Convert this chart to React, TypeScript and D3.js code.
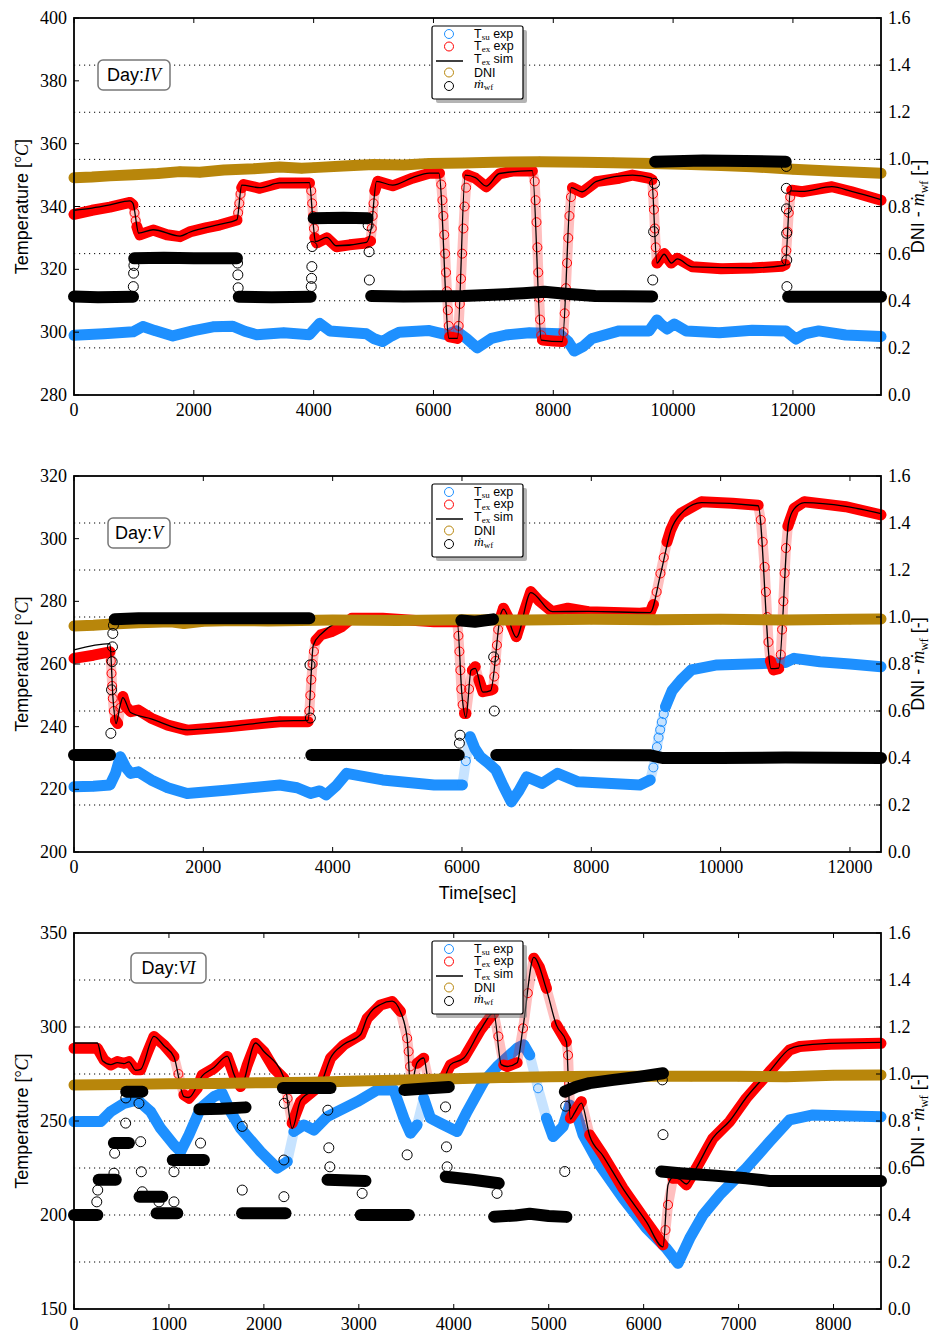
import React from 'react';
import * as d3 from 'd3';

type P = [number, number];

// ================= Day IV =================
const d4XTicks = [0, 2000, 4000, 6000, 8000, 10000, 12000];
const d4YTicks = [280, 300, 320, 340, 360, 380, 400];
const d4Tsu: P[] = [[0,299.0],[500,299.5],[985,300.1],[1150,301.8],[1350,300.5],[1650,298.8],[2000,300.5],[2320,301.7],[2650,301.9],[2850,300.3],[3050,299.2],[3500,299.8],[3930,299.2],[4100,302.8],[4270,300.4],[4600,299.9],[4880,299.5],[5000,298],[5150,297],[5300,298.8],[5430,300],[5930,300.5],[6210,299.2],[6380,300.4],[6550,298],[6730,295],[6850,296.5],[6970,298],[7210,299.1],[7600,299.8],[8100,299.5],[8250,297],[8350,294],[8500,295.5],[8650,298],[9100,300.4],[9600,300.4],[9730,303.9],[9800,302.5],[9900,301],[10020,302.6],[10220,300.4],[10770,299.8],[11320,300.6],[11880,300.4],[12050,297.8],[12200,299.5],[12430,300.4],[12880,299.1],[13470,298.6]];
const d4Tex: P[] = [[0,337.5],[300,338.8],[600,339.8],[935,341.3],[985,340.5],[1010,338],[1030,335.5],[1050,333.5],[1075,332],[1100,331],[1320,332.5],[1550,331],[1770,330.4],[1930,331.9],[2200,333.2],[2430,334.1],[2720,335.7],[2740,338],[2760,341],[2780,344],[2800,346],[2830,347],[3100,345.8],[3430,347.5],[3700,347.5],[3930,347.5],[3960,345],[3975,341],[3990,337],[4005,333],[4020,330],[4050,328.4],[4220,330],[4380,327.2],[4600,327.8],[4880,328.4],[4950,329],[4970,333],[4985,337],[5000,341],[5020,345],[5070,348],[5320,346.6],[5650,349],[5930,350.6],[6100,350.6],[6130,347],[6150,342],[6165,337],[6180,331],[6195,325],[6210,319],[6225,313],[6240,307],[6255,302],[6270,298.5],[6400,298],[6420,302],[6440,309],[6460,317],[6480,325],[6500,333],[6520,340],[6545,346],[6570,350],[6700,349],[6880,346.3],[7100,350.4],[7320,351.3],[7650,351.3],[7690,348],[7705,342],[7720,335],[7735,327],[7750,319],[7765,311],[7780,304],[7800,299],[7820,297.5],[8000,297.2],[8150,297],[8170,300],[8190,306],[8210,314],[8230,322],[8250,330],[8270,337],[8295,343],[8320,346],[8480,344.5],[8720,347.9],[9100,349],[9320,350],[9600,349],[9650,348.5],[9665,344],[9680,339],[9695,333],[9710,327],[9730,322],[9850,325],[9970,322],[10070,323.5],[10320,320.8],[10800,320.2],[11320,320.4],[11820,321],[11870,321.5],[11890,326],[11910,332],[11930,338],[11955,343],[11980,345.2],[12150,344.7],[12650,346.3],[12980,344.7],[13470,342]];
const d4Sim: P[] = [[0,338.8],[300,339.5],[600,340.5],[935,341.8],[985,341],[1080,331.5],[1320,332.6],[1770,330.6],[1930,331.8],[2430,334.3],[2720,335.8],[2800,346.8],[3100,346],[3430,347.5],[3930,347.6],[3990,335],[4030,328.8],[4220,330.2],[4380,327.5],[4880,328.6],[4960,333],[5050,348],[5320,346.8],[5650,349.2],[5930,350.6],[6090,350.6],[6260,298],[6400,298],[6530,350],[6700,349.2],[6880,346.5],[7100,350.5],[7650,351.4],[7800,297.5],[8150,297],[8300,346],[8480,344.7],[8720,348],[9320,350],[9640,349],[9730,322],[9850,324.8],[9970,322],[10070,323.3],[10320,320.8],[11320,320.5],[11870,321.3],[11960,345],[12150,344.8],[12650,346.3],[12980,344.8],[13470,342.2]];
const d4Dni: P[] = [[0,0.922],[300,0.925],[600,0.93],[1000,0.935],[1400,0.94],[1770,0.948],[2100,0.945],[2500,0.955],[3000,0.96],[3430,0.968],[3800,0.962],[4000,0.965],[4500,0.972],[5000,0.978],[5500,0.976],[5930,0.983],[6500,0.985],[7000,0.988],[7770,0.99],[8500,0.988],[9000,0.986],[9650,0.983],[10300,0.978],[10800,0.974],[11320,0.969],[12000,0.958],[12700,0.95],[13470,0.941]];
const d4MwfSegs: P[][] = [
  [[0,0.418],[400,0.415],[985,0.417]],
  [[1005,0.58],[1500,0.582],[2000,0.58],[2720,0.58]],
  [[2750,0.417],[3300,0.415],[3950,0.417]],
  [[4000,0.75],[4500,0.752],[4900,0.75]],
  [[4960,0.42],[5500,0.418],[6500,0.42],[7000,0.425],[7500,0.432],[7850,0.438],[8200,0.43],[8700,0.42],[9650,0.418]],
  [[9700,0.99],[10500,0.995],[11200,0.993],[11880,0.99]],
  [[11920,0.417],[12700,0.417],[13470,0.417]],
];
const d4MwfPts: P[] = [[990,0.46],[995,0.517],[1000,0.55],[2730,0.56],[2735,0.51],[2740,0.455],[3960,0.46],[3965,0.495],[3970,0.545],[3975,0.63],[4910,0.72],[4925,0.608],[4930,0.488],[9660,0.488],[9675,0.693],[9690,0.898],[11890,0.97],[11890,0.877],[11892,0.79],[11895,0.686],[11897,0.573],[11900,0.46]];

// ================= Day V =================
const d5XTicks = [0, 2000, 4000, 6000, 8000, 10000, 12000];
const d5YTicks = [200, 220, 240, 260, 280, 300, 320];
const d5Tsu: P[] = [[0,220.8],[300,221],[557,221.4],[640,225],[716,230.4],[800,227],[875,225.1],[994,225.6],[1193,223],[1450,220.5],[1750,218.7],[2387,219.8],[3182,221.4],[3450,220.5],[3659,218.7],[3800,219.5],[3898,218.2],[4050,221],[4216,225.1],[4773,223],[5569,221.4],[6006,221.4],[6060,229],[6125,236.8],[6200,233],[6284,230.4],[6400,228.5],[6523,226.2],[6640,221],[6762,216],[6880,219.5],[7000,224],[7239,221.9],[7478,225.1],[7796,222.4],[8750,221.4],[8910,223],[8960,227],[8989,230.4],[9015,233.5],[9040,236.5],[9065,239],[9090,241.5],[9120,244],[9148,246.4],[9200,249],[9250,251.5],[9387,254.9],[9546,258.1],[9944,259.7],[10739,260.2],[11000,260.5],[11137,261.8],[11535,260.7],[12000,260],[12480,259.1]];
const d5Tex: P[] = [[0,261.8],[300,262.8],[557,263.9],[570,261],[580,257],[590,253],[600,249],[615,245],[640,242],[676,241],[716,246],[756,249.6],[800,246.5],[875,244.8],[994,245.3],[1193,242.7],[1450,240.5],[1750,238.9],[2387,240],[3182,241.6],[3620,241.6],[3640,245],[3655,250],[3670,255],[3690,260],[3710,264],[3740,267.5],[3818,269.3],[3978,270.3],[4137,271.9],[4296,274.6],[4773,274.6],[5569,273.5],[5926,273.5],[5945,269],[5960,264],[5975,258],[5990,252],[6010,247],[6040,244.2],[6062,244.2],[6110,252],[6160,258],[6205,259.1],[6260,255],[6324,251.2],[6443,251.7],[6480,252],[6500,256],[6520,261],[6540,266],[6560,271],[6600,275],[6642,277.8],[6700,275.5],[6841,268.7],[6950,276],[7064,283.1],[7200,280],[7398,276.7],[7637,277.8],[7955,276.7],[8750,276.2],[8910,276.5],[8960,279],[9010,283],[9069,288.9],[9120,294],[9170,299],[9228,302.8],[9300,306],[9387,308.1],[9705,311.8],[10182,311.3],[10580,310.7],[10620,306],[10650,299],[10680,291],[10700,283],[10720,275],[10740,267],[10770,261],[10819,258.1],[10898,258.5],[10930,263],[10950,271],[10970,280],[10990,289],[11010,297],[11040,304],[11137,309.7],[11296,311.8],[11933,310.2],[12480,307.6]];
const d5Sim: P[] = [[0,264.5],[557,266.5],[600,250],[650,241],[716,247],[756,249.3],[875,244.5],[1193,242.5],[1750,239],[2387,240],[3182,241.8],[3620,242],[3700,266],[3818,269.5],[4296,274.5],[5569,273.6],[5926,273.6],[6000,250],[6062,243],[6140,258],[6205,258.6],[6324,251],[6443,251.5],[6600,276],[6642,277.5],[6841,268.5],[7064,282.8],[7398,276.7],[7955,276.8],[8910,276.4],[9069,288.5],[9228,302.5],[9387,308],[9705,311.5],[10580,310.5],[10780,258.5],[10898,258.7],[11050,305],[11137,309.5],[11296,311.5],[11933,310.3],[12480,308]];
const d5Dni: P[] = [[0,0.962],[300,0.965],[600,0.97],[1000,0.975],[1500,0.98],[1700,0.972],[2000,0.982],[2500,0.985],[3000,0.983],[4000,0.987],[5000,0.985],[6000,0.988],[7000,0.987],[8000,0.99],[9000,0.988],[10000,0.99],[11000,0.987],[12000,0.99],[12480,0.992]];
const d5MwfSegs: P[][] = [
  [[0,0.413],[300,0.413],[557,0.413]],
  [[630,0.99],[1000,0.995],[2000,0.995],[3000,0.995],[3640,0.995]],
  [[3670,0.413],[4500,0.413],[5950,0.413]],
  [[5990,0.985],[6200,0.98],[6480,0.99]],
  [[6530,0.413],[7500,0.413],[8900,0.412],[9100,0.4],[10000,0.4],[11000,0.402],[12480,0.4]],
];
const d5MwfPts: P[] = [[570,0.505],[580,0.69],[590,0.81],[595,0.873],[600,0.93],[610,0.965],[3650,0.796],[3655,0.57],[5960,0.463],[5970,0.497],[6490,0.83],[6500,0.6]];

// ================= Day VI =================
const d6XTicks = [0, 1000, 2000, 3000, 4000, 5000, 6000, 7000, 8000];
const d6YTicks = [150, 200, 250, 300, 350];
const d6Tsu: P[] = [[0,249.7],[281,249.7],[386,255],[526,259.4],[667,261.2],[807,255],[912,246.1],[1053,237.3],[1123,233.7],[1211,242.6],[1333,256.8],[1474,263],[1561,264.8],[1649,255],[1754,246.1],[1965,233.7],[2140,224.9],[2246,228.4],[2316,244.4],[2421,247.9],[2527,245.2],[2667,252.3],[2983,260.3],[3193,266.5],[3369,266.5],[3474,251.5],[3544,243.5],[3614,247.9],[3684,262.1],[3755,251.5],[3860,248.8],[4035,244.4],[4141,255],[4316,271],[4456,278.9],[4667,288.7],[4737,290.5],[4800,285.1],[4888,267.4],[4976,251.5],[5046,241.7],[5151,247],[5221,258.5],[5292,254],[5362,242.6],[5537,226.6],[5783,208.9],[6028,193],[6239,182.3],[6362,174.3],[6485,187.6],[6625,200],[6800,210.7],[7081,224.9],[7327,239],[7537,250.6],[7783,253.2],[8500,252.3]];
const d6Tex: P[] = [[0,288.7],[246,288.7],[316,282.5],[386,279.8],[456,281.6],[526,280.7],[579,281.6],[649,277.2],[702,277.2],[770,286],[842,294.9],[947,290.5],[1053,284.3],[1100,275],[1158,263.9],[1211,262.1],[1298,267.4],[1351,274.5],[1474,278],[1614,284.3],[1684,274.5],[1754,268.3],[1825,279.8],[1912,291.3],[2000,286.9],[2105,278],[2211,272.7],[2250,262],[2298,248.8],[2386,260.3],[2597,269.2],[2702,283.4],[2842,290.5],[3018,295.8],[3088,304.6],[3228,311.7],[3351,313.5],[3439,308.2],[3509,294],[3525,287],[3540,279],[3562,268.3],[3614,280.7],[3684,283.4],[3737,271],[3860,269.2],[3965,279.8],[4106,283.4],[4281,298.4],[4380,305],[4421,307.3],[4470,295],[4527,279.8],[4562,279],[4667,281],[4730,299.3],[4780,318],[4843,336.6],[4900,332],[4976,320.6],[5081,301.1],[5186,292.2],[5204,285],[5215,270],[5228,251.5],[5274,255],[5344,260.3],[5432,242.6],[5572,231.9],[5783,214.2],[6028,196.5],[6204,184.1],[6230,192],[6257,205.4],[6309,219.5],[6380,219.5],[6450,216],[6555,224.9],[6730,240.8],[6906,249.7],[7081,262.1],[7327,276.3],[7537,287.8],[7643,289.6],[7958,290.8],[8500,291.3]];
const d6Sim: P[] = [[0,291.5],[246,291.5],[300,282],[386,280],[456,281],[526,280.5],[579,281.5],[649,277],[702,277.5],[842,295],[947,290],[1053,284],[1158,263],[1211,262.5],[1351,274],[1474,278.5],[1614,284.5],[1684,275],[1754,268],[1912,291.5],[2000,287],[2211,273],[2298,246],[2386,261],[2597,269.5],[2702,283.5],[2842,290.8],[3018,296],[3088,305],[3228,312],[3351,313.8],[3439,308],[3509,294],[3545,268],[3614,281],[3684,283.5],[3737,271],[3860,269.5],[3965,280],[4106,283.5],[4281,298.5],[4421,307.5],[4500,280],[4562,279],[4667,281],[4730,300],[4843,337],[4976,320],[5081,301],[5186,292],[5228,251],[5274,254.5],[5344,259.5],[5432,242],[5572,231.5],[5783,214],[6028,196.5],[6204,183],[6257,216],[6309,220],[6380,219],[6450,216.5],[6555,225],[6730,241],[6906,250],[7081,262.5],[7327,276.5],[7537,288.3],[7643,290],[7958,291.3],[8500,291.8]];
const d6Dni: P[] = [[0,0.953],[500,0.955],[1000,0.958],[1500,0.96],[2000,0.963],[2500,0.965],[3000,0.97],[3500,0.975],[4000,0.98],[4500,0.985],[5000,0.988],[5500,0.99],[6000,0.99],[6500,0.99],[7000,0.99],[7500,0.988],[8000,0.995],[8500,0.996]];
const d6MwfSegs: P[][] = [
  [[0,0.40],[246,0.40]],
  [[260,0.55],[440,0.55]],
  [[420,0.706],[579,0.706]],
  [[550,0.925],[720,0.925]],
  [[690,0.478],[930,0.478]],
  [[870,0.407],[1088,0.407]],
  [[1040,0.634],[1368,0.634]],
  [[1320,0.85],[1550,0.852],[1807,0.858]],
  [[1770,0.407],[2228,0.407]],
  [[2200,0.94],[2702,0.94]],
  [[2670,0.55],[3070,0.545]],
  [[3020,0.40],[3527,0.40]],
  [[3480,0.932],[3700,0.938],[3948,0.945]],
  [[3915,0.563],[4200,0.55],[4474,0.535]],
  [[4425,0.393],[4650,0.398],[4800,0.405],[5000,0.396],[5186,0.392]],
  [[5170,0.925],[5290,0.946],[5430,0.961],[5680,0.975],[5960,0.989],[6204,1.003]],
  [[6186,0.585],[6380,0.578],[6730,0.568],[7081,0.556],[7327,0.545],[7783,0.545],[8500,0.545]],
];
const d6MwfPts: P[] = [[240,0.456],[250,0.506],[421,0.578],[428,0.663],[544,0.791],[546,0.898],[684,0.875],[702,0.712],[709,0.584],[719,0.499],[895,0.456],[1053,0.456],[1053,0.584],[1333,0.706],[1772,0.777],[1772,0.506],[2211,0.478],[2211,0.634],[2215,0.875],[2674,0.846],[2684,0.686],[2695,0.605],[3035,0.492],[3509,0.656],[3913,0.86],[3923,0.69],[3930,0.605],[4456,0.492],[5169,0.585],[5179,0.863],[6197,0.975],[6204,0.742]];

const RIGHT_TICKS = [0, 0.2, 0.4, 0.6, 0.8, 1.0, 1.2, 1.4, 1.6];
const GRID = [0.2, 0.4, 0.6, 0.8, 1.0, 1.2, 1.4];

const SANS = "'Liberation Sans', Arial, Helvetica, sans-serif";
const SERIF = "'Liberation Serif', 'DejaVu Serif', 'Times New Roman', serif";
const X0 = 74, X1 = 881;
const BLUE = '#1e90ff', RED = '#ff0000', GOLD = '#b8860b';

type Sc = (v: number) => number;

function Band({ pts, sx, sy, color, width = 11, r = 4.5, circles = true }: { pts: P[]; sx: Sc; sy: Sc; color: string; width?: number; r?: number; circles?: boolean }) {
  const px: [number, number][] = pts.map(([t, v]) => [sx(t), sy(v)]);
  const groups: { steep: boolean; pts: [number, number][] }[] = [];
  for (let i = 1; i < px.length; i++) {
    const dx = Math.abs(px[i][0] - px[i - 1][0]);
    const dy = Math.abs(px[i][1] - px[i - 1][1]);
    const steep = dy > 3.5 * dx && dy > 4;
    const last = groups[groups.length - 1];
    if (last && last.steep === steep) last.pts.push(px[i]);
    else groups.push({ steep, pts: [px[i - 1], px[i]] });
  }
  const line = d3.line();
  return (
    <g>
      {groups.map((g, i) => (
        <path key={'g' + i} d={line(g.pts) || ''} fill="none" stroke={color}
          strokeWidth={g.steep ? width - 1 : width} strokeOpacity={g.steep ? 0.25 : 1}
          strokeLinecap="round" strokeLinejoin="round" />
      ))}
      {circles && px.map((p, i) => (
        <circle key={'c' + i} cx={p[0]} cy={p[1]} r={r} fill="none" stroke={color} strokeWidth={1} />
      ))}
    </g>
  );
}

function Legend({ x, y }: { x: number; y: number }) {
  const rows = [8, 20.5, 33, 46.5, 60];
  const mk = 17, tx = 42;
  const sub = (s: string) => (
    <tspan fontFamily={SERIF} fontSize={9} dy={2}>{s}</tspan>
  );
  return (
    <g transform={`translate(${x},${y})`}>
      <rect x={4} y={4} width={91} height={73} rx={2} fill="#777" opacity={0.55} />
      <rect x={0} y={0} width={91} height={73} rx={2} fill="#fff" stroke="#000" strokeWidth={1.2} />
      <circle cx={mk} cy={rows[0]} r={4.5} fill="none" stroke={BLUE} strokeWidth={1} />
      <circle cx={mk} cy={rows[1]} r={4.5} fill="none" stroke={RED} strokeWidth={1} />
      <line x1={4} x2={31} y1={rows[2] + 2} y2={rows[2] + 2} stroke="#000" strokeWidth={1.5} />
      <circle cx={mk} cy={rows[3]} r={4.5} fill="none" stroke={GOLD} strokeWidth={1} />
      <circle cx={mk} cy={rows[4]} r={4.5} fill="none" stroke="#000" strokeWidth={1} />
      <g fontFamily={SANS} fontSize={12.5} fill="#000">
        <text x={tx} y={rows[0] + 3.5}>T{sub('su')}<tspan dy={-2}> exp</tspan></text>
        <text x={tx} y={rows[1] + 3.5}>T{sub('ex')}<tspan dy={-2}> exp</tspan></text>
        <text x={tx} y={rows[2] + 3.5}>T{sub('ex')}<tspan dy={-2}> sim</tspan></text>
        <text x={tx} y={rows[3] + 4}>DNI</text>
        <text x={tx} y={rows[4] + 2}><tspan fontFamily={SERIF} fontStyle="italic" fontSize={13.5}>ṁ</tspan>{sub('wf')}</text>
      </g>
    </g>
  );
}

interface PanelProps {
  top: number; bottom: number; xMax: number; xTicks: number[];
  yDom: [number, number]; yTicks: number[];
  tsu: P[]; tex: P[]; sim: P[]; dni: P[]; mwfSegs: P[][]; mwfPts: P[];
  day: string; dayBox: [number, number, number];
  xLabel?: string;
}

function Panel(p: PanelProps) {
  const sx = d3.scaleLinear().domain([0, p.xMax]).range([X0, X1]);
  const sy = d3.scaleLinear().domain(p.yDom).range([p.bottom, p.top]);
  const sy2 = d3.scaleLinear().domain([0, 1.6]).range([p.bottom, p.top]);
  const simLine = d3.line<P>().x(d => sx(d[0])).y(d => sy(d[1])).curve(d3.curveMonotoneX);
  const mid = (p.top + p.bottom) / 2;
  const [bx, by, bw] = p.dayBox;
  return (
    <g>
      {GRID.map(v => (
        <line key={'gr' + v} x1={X0} x2={X1} y1={sy2(v)} y2={sy2(v)} stroke="#000" strokeWidth={1} strokeDasharray="1.2 3.8" />
      ))}
      <Band pts={p.tsu} sx={sx} sy={sy} color={BLUE} />
      <Band pts={p.tex} sx={sx} sy={sy} color={RED} />
      <path d={simLine(p.sim) || ''} fill="none" stroke="#000" strokeWidth={1.3} />
      <Band pts={p.dni} sx={sx} sy={sy2} color={GOLD} width={11} />
      {p.mwfSegs.map((seg, i) => (
        <Band key={'m' + i} pts={seg} sx={sx} sy={sy2} color="#000" width={12} />
      ))}
      {p.mwfPts.map(([t, v], i) => (
        <circle key={'mp' + i} cx={sx(t)} cy={sy2(v)} r={5} fill="none" stroke="#000" strokeWidth={1} />
      ))}
      <Legend x={432} y={p.top + 8} />
      <g>
        <rect x={bx} y={by} width={bw} height={30} rx={5} fill="#fff" stroke="#777" strokeWidth={1.5} />
        <text x={bx + bw / 2} y={by + 21} textAnchor="middle" fontFamily={SANS} fontSize={18}>Day:<tspan fontFamily={SERIF} fontStyle="italic">{p.day}</tspan></text>
      </g>
      <rect x={X0} y={p.top} width={X1 - X0} height={p.bottom - p.top} fill="none" stroke="#000" strokeWidth={1.8} />
      {p.xTicks.map(t => (
        <g key={'xt' + t}>
          <line x1={sx(t)} x2={sx(t)} y1={p.bottom} y2={p.bottom - 5} stroke="#000" strokeWidth={1} />
          <line x1={sx(t)} x2={sx(t)} y1={p.top} y2={p.top + 5} stroke="#000" strokeWidth={1} />
          <text x={sx(t)} y={p.bottom + 21} textAnchor="middle" fontFamily={SERIF} fontSize={18}>{t}</text>
        </g>
      ))}
      {p.yTicks.map(v => (
        <g key={'yt' + v}>
          <line x1={X0} x2={X0 + 5} y1={sy(v)} y2={sy(v)} stroke="#000" strokeWidth={1} />
          <text x={67} y={sy(v) + 6} textAnchor="end" fontFamily={SERIF} fontSize={18}>{v}</text>
        </g>
      ))}
      {RIGHT_TICKS.map(v => (
        <g key={'rt' + v}>
          <line x1={X1} x2={X1 - 5} y1={sy2(v)} y2={sy2(v)} stroke="#000" strokeWidth={1} />
          <text x={888} y={sy2(v) + 6} textAnchor="start" fontFamily={SERIF} fontSize={18}>{v.toFixed(1)}</text>
        </g>
      ))}
      <text transform={`translate(28,${mid}) rotate(-90)`} textAnchor="middle" fontFamily={SANS} fontSize={18}>
        Temperature [<tspan fontFamily={SERIF}>°</tspan><tspan fontFamily={SERIF} fontStyle="italic">C</tspan>]
      </text>
      <text transform={`translate(924,${mid}) rotate(-90)`} textAnchor="middle" fontFamily={SANS} fontSize={18}>
        DNI - <tspan fontFamily={SERIF} fontStyle="italic">ṁ</tspan><tspan fontFamily={SERIF} fontSize={12} dy={4}>wf</tspan><tspan dy={-4}> [-]</tspan>
      </text>
      {p.xLabel && (
        <text x={(X0 + X1) / 2} y={p.bottom + 47} textAnchor="middle" fontFamily={SANS} fontSize={18}>{p.xLabel}</text>
      )}
    </g>
  );
}

export default function App() {
  return (
    <svg width={934} height={1330} style={{ position: 'absolute', left: 0, top: 0, background: '#fff' }}>
      <rect x={0} y={0} width={934} height={1330} fill="#fff" />
      <Panel top={18} bottom={395} xMax={13470} xTicks={d4XTicks} yDom={[280, 400]} yTicks={d4YTicks}
        tsu={d4Tsu} tex={d4Tex} sim={d4Sim} dni={d4Dni} mwfSegs={d4MwfSegs} mwfPts={d4MwfPts}
        day="IV" dayBox={[98, 60, 72]} />
      <Panel top={476} bottom={852} xMax={12480} xTicks={d5XTicks} yDom={[200, 320]} yTicks={d5YTicks}
        tsu={d5Tsu} tex={d5Tex} sim={d5Sim} dni={d5Dni} mwfSegs={d5MwfSegs} mwfPts={d5MwfPts}
        day="V" dayBox={[108, 518, 62]} xLabel="Time[sec]" />
      <Panel top={933} bottom={1309} xMax={8500} xTicks={d6XTicks} yDom={[150, 350]} yTicks={d6YTicks}
        tsu={d6Tsu} tex={d6Tex} sim={d6Sim} dni={d6Dni} mwfSegs={d6MwfSegs} mwfPts={d6MwfPts}
        day="VI" dayBox={[131, 953, 75]} />
    </svg>
  );
}
